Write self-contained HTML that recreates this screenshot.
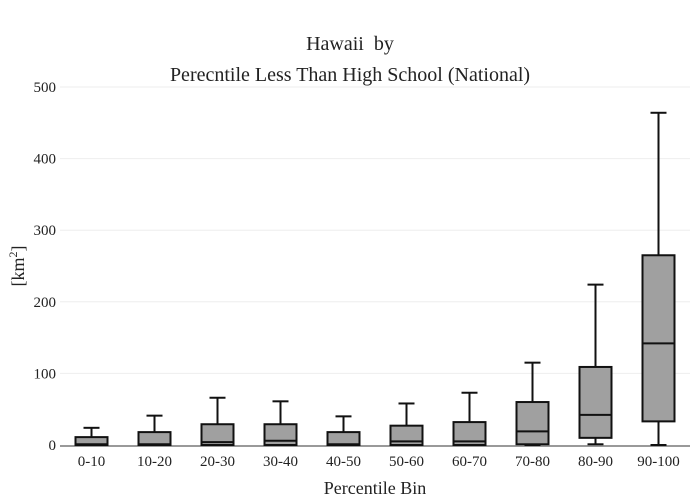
<!DOCTYPE html>
<html><head><meta charset="utf-8"><style>
body{margin:0;background:#fff}
svg{display:block;font-family:"Liberation Serif",serif}
.pre{white-space:pre}
</style></head><body>
<svg id="c" width="700" height="500">
<text class="pre" x="350" y="50" text-anchor="middle" font-size="20" fill="#222">Hawaii  by</text>
<text x="350" y="81" text-anchor="middle" font-size="20" fill="#222">Perecntile Less Than High School (National)</text>
<text x="375" y="494" text-anchor="middle" font-size="18" fill="#222">Percentile Bin</text>
<text transform="translate(24,266) rotate(-90)" text-anchor="middle" font-size="18" fill="#222">[km<tspan dy="-7" font-size="12">2</tspan><tspan dy="7">]</tspan></text>
<g id="grid"></g><g id="boxes"></g><g id="xt"></g>
</svg>
<script>
const categories=["0-10","10-20","20-30","30-40","40-50","50-60","60-70","70-80","80-90","90-100"];
const whiskerLow=[0,0,0,0,0,0,0,0,1,0];
const q1Values=[0,0,0,0,0,0,0,1,10,33];
const medianValues=[1,1,4,6,1,5,5,19,42,142];
const q3Values=[11,18,29,29,18,27,32,60,109,265];
const whiskerHigh=[24,41,66,61,40,58,73,115,224,464];
const yTicks=[0,100,200,300,400,500];
const NS="http://www.w3.org/2000/svg";
const x0=60,x1=690,y0=445,y1=87;
const y=v=>y0-(v/500)*(y0-y1);
const bw=(x1-x0)/categories.length;
const x=i=>x0+bw*(i+0.5);
function mk(t,a,p){const e=document.createElementNS(NS,t);for(const k in a)e.setAttribute(k,a[k]);p.appendChild(e);return e;}
const g=document.getElementById('grid'),b=document.getElementById('boxes'),xt=document.getElementById('xt');
yTicks.forEach(t=>{
 if(t>0){const l=mk('line',{x1:x0,x2:x1,y1:y(t),y2:y(t),stroke:'#eee','stroke-width':1},g);
 
 }
 const tx=mk('text',{x:x0-4,y:y(t)+5,'text-anchor':'end','font-size':15,fill:'#222'},g);tx.textContent=t;
 
 
});
const ax=mk('line',{x1:x0,x2:x1,y1:y0+1,y2:y0+1,stroke:'#999','stroke-width':2},g);


const w=32;
categories.forEach((c,i)=>{
 const cx=x(i);
 const grp=mk('g',{},b);
 
 
 const st={stroke:'#111','stroke-width':2};
 mk('line',Object.assign({x1:cx,x2:cx,y1:y(whiskerHigh[i]),y2:y(q3Values[i])},st),grp);
 mk('line',Object.assign({x1:cx,x2:cx,y1:y(q1Values[i]),y2:y(whiskerLow[i])},st),grp);
 mk('line',Object.assign({x1:cx-8,x2:cx+8,y1:y(whiskerHigh[i]),y2:y(whiskerHigh[i])},st),grp);
 mk('line',Object.assign({x1:cx-8,x2:cx+8,y1:y(whiskerLow[i]),y2:y(whiskerLow[i])},st),grp);
 mk('rect',{x:cx-w/2,y:y(q3Values[i]),width:w,height:Math.max(1,y(q1Values[i])-y(q3Values[i])),fill:'#a0a0a0',stroke:'#111','stroke-width':2},grp);
 mk('line',Object.assign({x1:cx-w/2,x2:cx+w/2,y1:y(medianValues[i]),y2:y(medianValues[i])},st),grp);
 const t=mk('text',{x:cx,y:466,'text-anchor':'middle','font-size':15,fill:'#222'},xt);t.textContent=c;
 
 
});
</script>
</body></html>
